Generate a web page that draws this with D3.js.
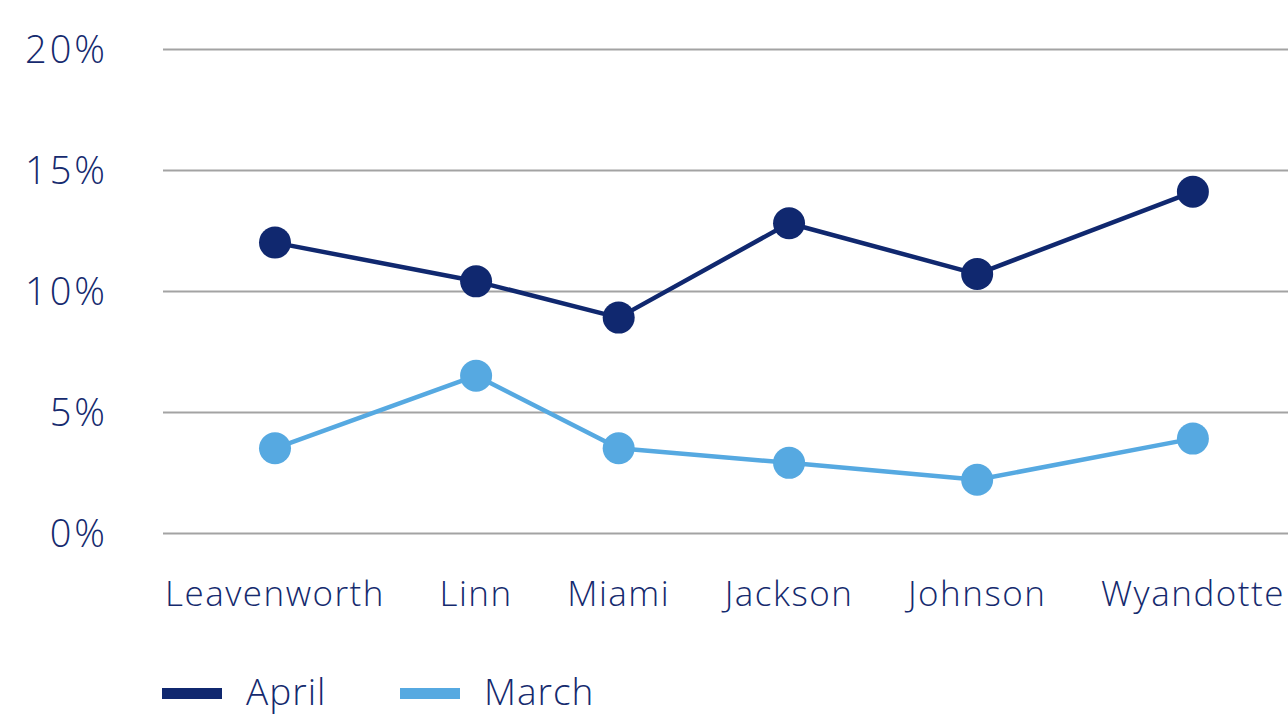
<!DOCTYPE html>
<html>
<head>
<meta charset="utf-8">
<script src="https://cdn.jsdelivr.net/npm/d3@7"></script>
<style>
  html, body { margin: 0; padding: 0; background: #ffffff; }
  svg { display: block; }
  text { font-family: "Open Sans", Lato, "Noto Sans", sans-serif; font-weight: 300; fill: #152a6e; }
</style>
</head>
<body>
<svg id="chart" width="1288" height="721"></svg>
<script>
// ---- data ----
const categories = ["Leavenworth", "Linn", "Miami", "Jackson", "Johnson", "Wyandotte"];
const aprilValues = [12.0, 10.4, 8.9, 12.8, 10.7, 14.1];
const marchValues = [3.5, 6.5, 3.5, 2.9, 2.2, 3.9];
const yTickValues = [0, 5, 10, 15, 20];
const seriesNames = ["April", "March"];

// ---- styles / layout ----
const W = 1288, H = 721;
const plotLeft = 163, plotTop = 49, plotBottom = 533;
const colors = { April: "#10286f", March: "#56a9e1" };
const gridColor = "#a3a3a3";
const labelGap = 54.5;
const labelSpacing = 1.5;

const svg = d3.select("#chart");

const y = d3.scaleLinear().domain([0, 20]).range([plotBottom, plotTop]);

// gridlines
const grid = svg.append("g")
  .attr("transform", `translate(${plotLeft},0)`)
  .call(d3.axisRight(y).tickValues(yTickValues).tickSize(W - plotLeft).tickFormat(""));
grid.select(".domain").remove();
grid.selectAll(".tick line").attr("stroke", gridColor).attr("stroke-width", 2);

// y labels
const yAxis = svg.append("g")
  .attr("transform", `translate(108,0)`)
  .call(d3.axisLeft(y).tickValues(yTickValues).tickSize(0).tickPadding(0).tickFormat(d => d + "%"));
yAxis.select(".domain").remove();
yAxis.attr("font-family", null).attr("font-size", null);
yAxis.selectAll(".tick text")
  .attr("font-size", 38)
  .attr("letter-spacing", 3)
  .attr("dy", "0.36em")
  .attr("fill", "#152a6e");

// x labels laid out as a flow, points above each label centre
const xLabelG = svg.append("g");
let cursor = 165;
const centers = [];
categories.forEach(c => {
  const t = xLabelG.append("text")
    .attr("x", cursor).attr("y", 606)
    .attr("font-size", 35)
    .attr("letter-spacing", labelSpacing)
    .text(c);
  const w = t.node().getComputedTextLength();
  centers.push(cursor + w / 2);
  cursor += w + labelGap;
});
const x = d3.scaleOrdinal().domain(categories).range(centers);

// lines + points
const series = [
  { name: seriesNames[0], values: aprilValues },
  { name: seriesNames[1], values: marchValues }
];
const line = d3.line().x(d => x(d.c)).y(d => y(d.v));
series.slice().reverse().forEach(s => {
  const pts = categories.map((c, i) => ({ c, v: s.values[i] }));
  svg.append("path")
    .datum(pts)
    .attr("d", line)
    .attr("fill", "none")
    .attr("stroke", colors[s.name])
    .attr("stroke-width", 4.5)
    .attr("stroke-linejoin", "round");
  svg.append("g").selectAll("circle")
    .data(pts).join("circle")
    .attr("cx", d => x(d.c))
    .attr("cy", d => y(d.v))
    .attr("r", 16)
    .attr("fill", colors[s.name]);
});

// legend
const legendPos = [162, 400];
seriesNames.forEach((n, i) => {
  const g = svg.append("g").attr("transform", `translate(${legendPos[i]},0)`);
  g.append("rect").attr("x", 0).attr("y", 688).attr("width", 60).attr("height", 11).attr("fill", colors[n]);
  g.append("text").attr("x", 84).attr("y", 705).attr("font-size", 37).attr("letter-spacing", 1).text(n);
});
</script>
</body>
</html>
